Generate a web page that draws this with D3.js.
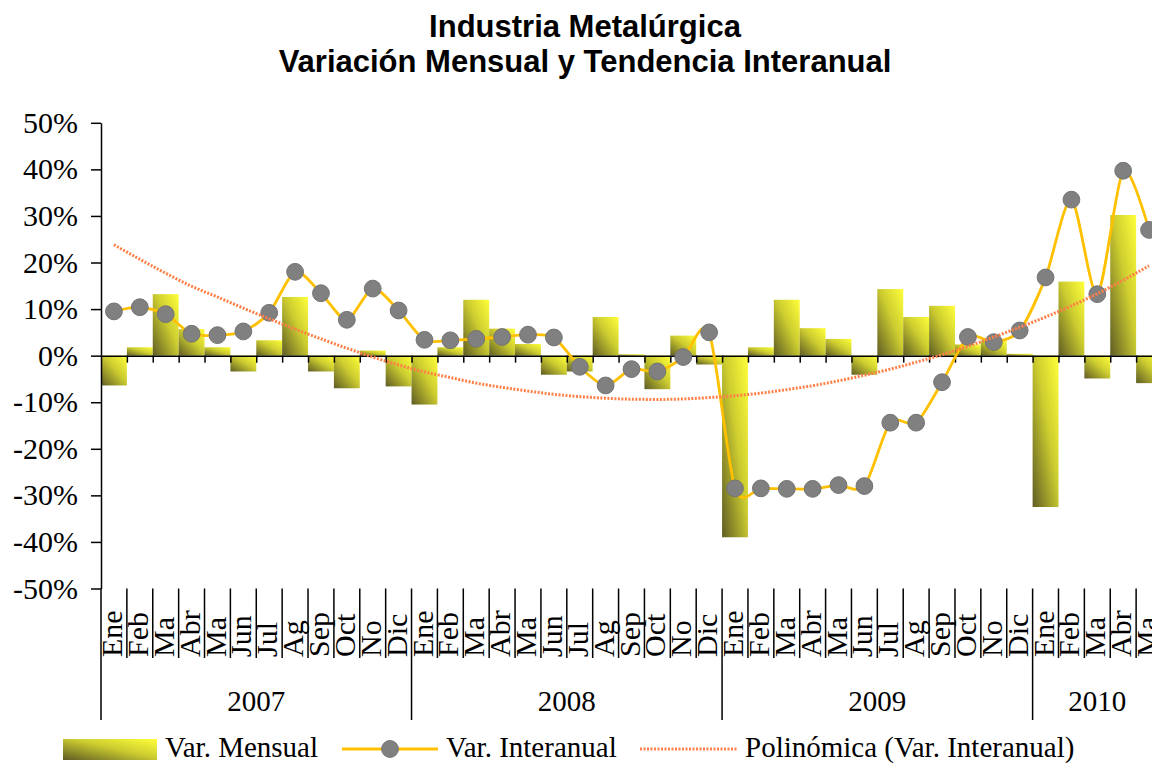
<!DOCTYPE html>
<html>
<head>
<meta charset="utf-8">
<script src="https://cdn.jsdelivr.net/npm/d3@7"></script>
<style>
  body { margin: 0; background: #fff; }
  svg { display: block; }
</style>
</head>
<body>
<div id="chart"></div>
<script>
// month labels as they appear on the axis (truncated by the original program)
var monthNames = ["Ene","Feb","Ma","Abr","Ma","Jun","Jul","Ag","Sep","Oct","No","Dic"];
var years = ["2007","2008","2009","2010"];
var monthsPerYear = [12, 12, 12, 5];

// Var. Mensual (%)
var varMensual = [
  -6.4, 1.8, 13.2, 5.7, 1.8, -3.4, 3.3, 12.6, -3.4, -7.0, 1.1, -6.6,
  -10.5, 1.8, 12.0, 5.8, 2.5, -4.1, -3.4, 8.3, 0.3, -7.2, 4.3, -1.9,
  -39.0, 1.8, 12.0, 5.9, 3.6, -4.1, 14.3, 8.3, 10.7, 2.4, 3.2, 0.4,
  -32.5, 15.9, -4.9, 30.2, -5.9
];

// Var. Interanual (%)
var varInteranual = [
  9.5, 10.4, 8.9, 4.7, 4.4, 5.2, 9.2, 18.0, 13.4, 7.7, 14.4, 9.7,
  3.4, 3.3, 3.6, 4.0, 4.5, 3.9, -2.4, -6.4, -2.9, -3.4, -0.3, 5.0,
  -28.5, -28.5, -28.6, -28.6, -27.8, -28.0, -14.4, -14.4, -5.7, 4.0, 2.9, 5.4,
  16.8, 33.5, 13.2, 39.7, 27.0
];

// Polinómica (Var. Interanual)
var tendencia = [
  23.8, 20.7, 17.7, 14.9, 12.6, 10.2, 7.9, 5.7, 3.6, 1.6, -0.3, -2.0,
  -3.5, -4.7, -5.9, -6.8, -7.6, -8.3, -8.8, -9.15, -9.35, -9.4, -9.3, -9.0,
  -8.6, -8.05, -7.3, -6.45, -5.4, -4.2, -2.9, -1.4, 0.2, 2.0, 4.0, 6.1,
  8.3, 10.7, 13.3, 16.2, 19.3
];

var yTicks = [50, 40, 30, 20, 10, 0, -10, -20, -30, -40, -50];

var width = 1152, height = 764;
var serif = "'Liberation Serif', 'Times New Roman', serif";

// build label list from the years
var labels = [];
years.forEach(function(yr, k) {
  for (var m = 0; m < monthsPerYear[k]; m++) labels.push(monthNames[m]);
});
var n = labels.length;

var svg = d3.select("#chart")
  .append("svg")
    .attr("width", width)
    .attr("height", height);

var defs = svg.append("defs");
var grad = defs.append("linearGradient")
    .attr("id", "barGrad")
    .attr("x1", 0).attr("y1", 1)
    .attr("x2", 1).attr("y2", 0);
grad.append("stop").attr("offset", "0%").attr("stop-color", "#5e5c24");
grad.append("stop").attr("offset", "55%").attr("stop-color", "#cccc30");
grad.append("stop").attr("offset", "100%").attr("stop-color", "#ffff3a");

// plot area runs past the right edge of the picture
var x = d3.scaleBand()
    .domain(d3.range(n))
    .range([101, 1162])
    .padding(0);
var xEdge = d3.scaleLinear().domain([0, n]).range([101, 1162]);
var y = d3.scaleLinear().domain([-50, 50]).range([588.5, 122.8]);

// title
var title = svg.append("g")
    .attr("font-family", "'Liberation Sans', Arial, sans-serif")
    .attr("font-weight", "bold")
    .attr("font-size", 31)
    .attr("text-anchor", "middle")
    .attr("fill", "#000");
title.append("text").attr("x", 585).attr("y", 37).text("Industria Metalúrgica");
title.append("text").attr("x", 585).attr("y", 72).text("Variación Mensual y Tendencia Interanual");

// bars
svg.append("g")
  .selectAll("rect")
  .data(varMensual)
  .enter().append("rect")
    .attr("x", function(d, i) { return x(i); })
    .attr("y", function(d) { return y(Math.max(0, d)); })
    .attr("width", x.bandwidth())
    .attr("height", function(d) { return Math.abs(y(d) - y(0)); })
    .attr("fill", "url(#barGrad)");

// y axis
var yAxis = svg.append("g")
    .attr("transform", "translate(101,0)")
    .call(d3.axisLeft(y).tickValues(yTicks).tickSize(10).tickSizeOuter(0)
      .tickFormat(function(d) { return d + "%"; }));
yAxis.select(".domain").attr("stroke", "#000").attr("stroke-width", 1.5);
yAxis.selectAll(".tick line").attr("stroke", "#000").attr("stroke-width", 1.5);
yAxis.selectAll(".tick text")
    .attr("x", -23)
    .attr("font-family", serif)
    .attr("font-size", 30)
    .attr("fill", "#000");

// horizontal axis at zero, ticks between months
var xAxis = svg.append("g")
    .attr("transform", "translate(0," + y(0) + ")")
    .call(d3.axisBottom(xEdge).tickValues(d3.range(1, n + 1)).tickSize(7).tickSizeOuter(0)
      .tickFormat(""));
xAxis.select(".domain").attr("stroke", "#000").attr("stroke-width", 1.5);
xAxis.selectAll(".tick line").attr("stroke", "#000").attr("stroke-width", 1.5);

// category labels below the plot
var yearStarts = [0];
monthsPerYear.forEach(function(c, k) { yearStarts.push(yearStarts[k] + c); });

var cat = svg.append("g");
cat.selectAll("line.sep")
  .data(d3.range(0, n + 1))
  .enter().append("line")
    .attr("class", "sep")
    .attr("x1", function(i) { return xEdge(i); })
    .attr("x2", function(i) { return xEdge(i); })
    .attr("y1", y(-50))
    .attr("y2", function(i) { return yearStarts.indexOf(i) >= 0 ? 720 : 658; })
    .attr("stroke", "#000")
    .attr("stroke-width", 1.5);

cat.selectAll("text.month")
  .data(labels)
  .enter().append("text")
    .attr("class", "month")
    .attr("transform", function(d, i) { return "translate(" + (xEdge(i) + 21) + ",657) rotate(-90)"; })
    .attr("font-family", serif)
    .attr("font-size", 30)
    .attr("fill", "#000")
    .text(function(d) { return d; });

cat.selectAll("text.year")
  .data(years)
  .enter().append("text")
    .attr("class", "year")
    .attr("x", function(d, k) { return (xEdge(yearStarts[k]) + xEdge(yearStarts[k + 1])) / 2; })
    .attr("y", 711)
    .attr("text-anchor", "middle")
    .attr("font-family", serif)
    .attr("font-size", 29)
    .attr("fill", "#000")
    .text(function(d) { return d; });

// Var. Interanual line + markers
var cx = function(d, i) { return x(i) + x.bandwidth() / 2; };
var line = d3.line()
    .x(cx)
    .y(function(d) { return y(d); })
    .curve(d3.curveCardinal.tension(0.2));

svg.append("path")
    .datum(varInteranual)
    .attr("d", line)
    .attr("fill", "none")
    .attr("stroke", "#ffc000")
    .attr("stroke-width", 2.8);

svg.append("g")
  .selectAll("circle")
  .data(varInteranual)
  .enter().append("circle")
    .attr("cx", cx)
    .attr("cy", function(d) { return y(d); })
    .attr("r", 8.4)
    .attr("fill", "#808080")
    .attr("stroke", "#737373")
    .attr("stroke-width", 1);

// polynomial trend
var trendLine = d3.line()
    .x(cx)
    .y(function(d) { return y(d); })
    .curve(d3.curveMonotoneX);

svg.append("path")
    .datum(tendencia)
    .attr("d", trendLine)
    .attr("fill", "none")
    .attr("stroke", "#ff8048")
    .attr("stroke-width", 3)
    .attr("stroke-dasharray", "2,1.5");

// legend (kept just inside the bottom edge)
var leg = svg.append("g")
    .attr("font-family", serif)
    .attr("font-size", 29)
    .attr("fill", "#000");

leg.append("rect")
    .attr("x", 63).attr("y", 739)
    .attr("width", 94).attr("height", 21)
    .attr("fill", "url(#barGrad)");
leg.append("text").attr("x", 165).attr("y", 757).text("Var. Mensual");

leg.append("line")
    .attr("x1", 342).attr("x2", 438)
    .attr("y1", 749).attr("y2", 749)
    .attr("stroke", "#ffc000").attr("stroke-width", 2.8);
leg.append("circle")
    .attr("cx", 390).attr("cy", 749).attr("r", 8.4)
    .attr("fill", "#808080").attr("stroke", "#737373");
leg.append("text").attr("x", 446).attr("y", 757).text("Var. Interanual");

leg.append("line")
    .attr("x1", 640).attr("x2", 738)
    .attr("y1", 749).attr("y2", 749)
    .attr("stroke", "#ff8048").attr("stroke-width", 3)
    .attr("stroke-dasharray", "2,1.5");
leg.append("text").attr("x", 745).attr("y", 757).text("Polinómica (Var. Interanual)");
</script>
</body>
</html>
